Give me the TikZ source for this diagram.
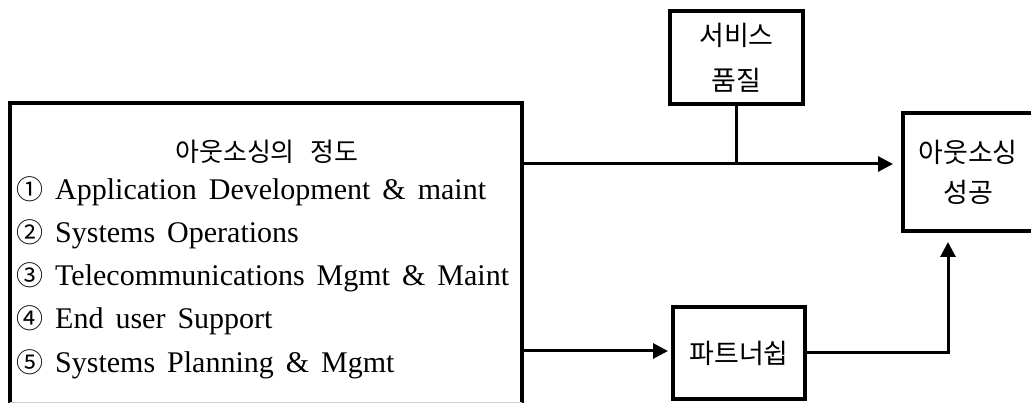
\documentclass[tikz,border=0pt]{standalone}
\usepackage{fontspec}
\setmainfont{Liberation Serif}
\newfontfamily\kr{Noto Sans CJK KR}
\usetikzlibrary{arrows.meta}
\newcommand\cnum[1]{{\kr\fontsize{27}{30}\selectfont #1}}
\newcommand\itemfont{\fontsize{30}{34}\selectfont\spaceskip 12pt\relax}
\begin{document}
\begin{tikzpicture}[x=1pt,y=-1pt,
  box/.style={draw, line width=4pt, inner sep=0pt, align=center},
  krfont/.style={font=\kr\fontsize{27}{#1}\selectfont},
  conn/.style={line width=3pt},
  arr/.style={conn, -{Triangle[length=15pt,width=15pt]}},
  item/.style={anchor=base west, inner sep=0pt, font=\itemfont}]
\useasboundingbox (0,0) rectangle (1031,403);
\clip (0,0) rectangle (1031,403);
\fill[white] (0,0) rectangle (1031,403);

% big box (open at bottom)
\node[draw=none, outer sep=0pt, inner sep=0pt, minimum width=512pt, minimum height=330pt, anchor=north west] (big) at (10,103) {};
\draw[line width=4pt] (big.south west) -- (big.north west) -- (big.north east) -- (big.south east);
\draw[gray!35, line width=1pt] (10,402.5) -- (522,402.5);

\node[inner sep=0pt] (title) at (267,152) {\kr\fontsize{26}{28}\selectfont 아웃소싱의\hspace{16pt}정도};
\node[item] (l1) at (16,200) {\cnum{①} Application Development \& maint};
\node[item] (l2) at (16,243) {\cnum{②} Systems Operations};
\node[item] (l3) at (16,286) {\cnum{③} Telecommunications Mgmt \& Maint};
\node[item] (l4) at (16,329) {\cnum{④} End user Support};
\node[item] (l5) at (16,372) {\cnum{⑤} Systems Planning \& Mgmt};

\node[box, krfont=45, minimum width=133pt, minimum height=93pt] (svc) at (736.5,57.5) {서비스\\품질};
\node[box, krfont=40, minimum width=130pt, minimum height=118pt] (succ) at (968,172) {아웃소싱\\성공};
\node[box, krfont=30, minimum width=132pt, minimum height=92pt] (part) at (739,353) {파트너쉽};

\coordinate (mainy) at (0,164);
\coordinate (py) at (0,351);
\coordinate (riser) at (948,0);
\coordinate (j) at (svc.south |- mainy);

\draw[conn] (svc.south) -- (j);
\draw[arr, shorten >=8pt] (big.east |- mainy) -- (mainy -| succ.west);
\draw[arr, shorten >=3pt] (big.east |- py) -- (py -| part.west);
\draw[arr, shorten >=9pt] (part.east) -| (riser |- succ.south);
\end{tikzpicture}
\end{document}
